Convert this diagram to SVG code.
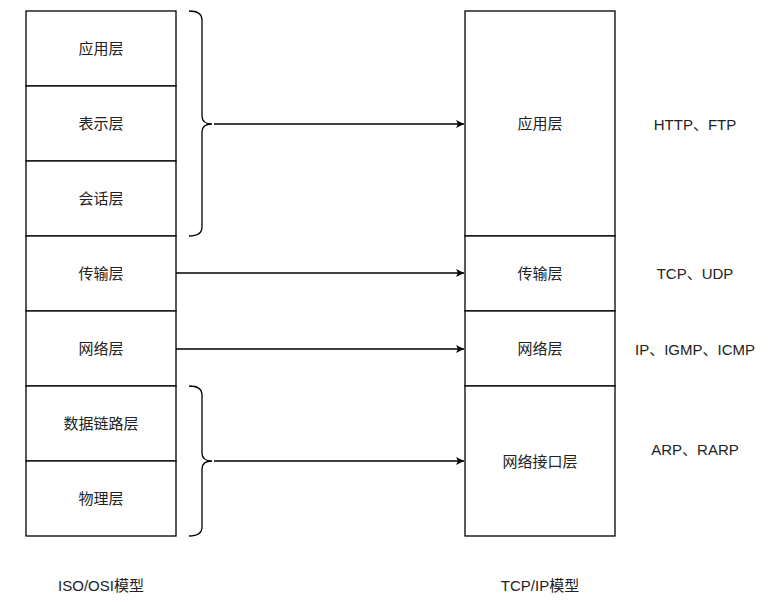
<svg xmlns="http://www.w3.org/2000/svg" width="772" height="607" viewBox="0 0 772 607">
<style>
.box{fill:#fff;stroke:#000;stroke-width:1.3}
.t{font-family:"Liberation Sans","Noto Sans CJK SC",sans-serif;font-size:15px;fill:#222;text-anchor:middle;dominant-baseline:central}
.edge{fill:none;stroke:#000;stroke-width:1.3}
.brace{fill:none;stroke:#000;stroke-width:1.3}
</style>
<defs>
<marker id="ah" markerWidth="10" markerHeight="10" refX="9" refY="5" orient="auto" markerUnits="userSpaceOnUse">
<path d="M1,1 L9,5 L1,9 L3,5 Z" fill="#000"/>
</marker>
</defs>
<g id="osi-app"><rect class="box" x="26" y="11" width="150" height="75"/><text class="t" x="101" y="48.5">应用层</text></g>
<g id="osi-pres"><rect class="box" x="26" y="86" width="150" height="75"/><text class="t" x="101" y="123.5">表示层</text></g>
<g id="osi-sess"><rect class="box" x="26" y="161" width="150" height="75"/><text class="t" x="101" y="198.5">会话层</text></g>
<g id="osi-trans"><rect class="box" x="26" y="236" width="150" height="75"/><text class="t" x="101" y="273.5">传输层</text></g>
<g id="osi-net"><rect class="box" x="26" y="311" width="150" height="75"/><text class="t" x="101" y="348.5">网络层</text></g>
<g id="osi-link"><rect class="box" x="26" y="386" width="150" height="75"/><text class="t" x="101" y="423.5">数据链路层</text></g>
<g id="osi-phys"><rect class="box" x="26" y="461" width="150" height="75"/><text class="t" x="101" y="498.5">物理层</text></g>

<g id="tcp-app"><rect class="box" x="465" y="11" width="150" height="225"/><text class="t" x="540" y="123.5">应用层</text></g>
<g id="tcp-trans"><rect class="box" x="465" y="236" width="150" height="75"/><text class="t" x="540" y="273.5">传输层</text></g>
<g id="tcp-net"><rect class="box" x="465" y="311" width="150" height="75"/><text class="t" x="540" y="348.5">网络层</text></g>
<g id="tcp-if"><rect class="box" x="465" y="386" width="150" height="150"/><text class="t" x="540" y="461">网络接口层</text></g>

<g id="brace-top"><path class="brace" d="M189,11 Q202,11 202,20 L202,116 Q202,124 212,124 Q202,124 202,132 L202,227 Q202,236 189,236"/></g>
<g id="brace-bottom"><path class="brace" d="M189,386 Q202,386 202,395 L202,453 Q202,461 212,461 Q202,461 202,469 L202,527 Q202,536 189,536"/></g>

<g id="connectors">
<line class="edge" x1="214" y1="124" x2="464" y2="124" marker-end="url(#ah)"/>
<line class="edge" x1="176" y1="273" x2="464" y2="273" marker-end="url(#ah)"/>
<line class="edge" x1="176" y1="349" x2="464" y2="349" marker-end="url(#ah)"/>
<line class="edge" x1="214" y1="461" x2="464" y2="461" marker-end="url(#ah)"/>
</g>

<g id="proto-app"><text class="t" x="695" y="124">HTTP、FTP</text></g>
<g id="proto-trans"><text class="t" x="695" y="273">TCP、UDP</text></g>
<g id="proto-net"><text class="t" x="695" y="349">IP、IGMP、ICMP</text></g>
<g id="proto-if"><text class="t" x="695" y="449">ARP、RARP</text></g>

<g id="label-osi"><text class="t" x="101" y="585">ISO/OSI模型</text></g>
<g id="label-tcp"><text class="t" x="540" y="585">TCP/IP模型</text></g>
</svg>
